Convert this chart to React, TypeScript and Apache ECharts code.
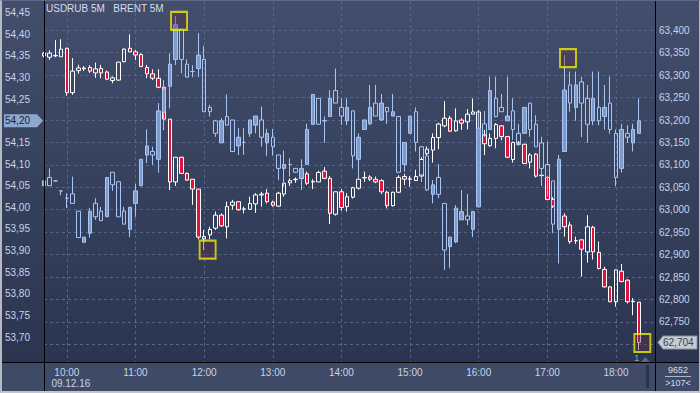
import React, { useEffect, useRef } from "react";
import * as echarts from "echarts";

// 5-minute slots, 09.12.16
const times = [
  "09:40", "09:45", "09:50", "09:55",
  "10:00", "10:05", "10:10", "10:15", "10:20", "10:25", "10:30", "10:35", "10:40", "10:45", "10:50", "10:55",
  "11:00", "11:05", "11:10", "11:15", "11:20", "11:25", "11:30", "11:35", "11:40", "11:45", "11:50", "11:55",
  "12:00", "12:05", "12:10", "12:15", "12:20", "12:25", "12:30", "12:35", "12:40", "12:45", "12:50", "12:55",
  "13:00", "13:05", "13:10", "13:15", "13:20", "13:25", "13:30", "13:35", "13:40", "13:45", "13:50", "13:55",
  "14:00", "14:05", "14:10", "14:15", "14:20", "14:25", "14:30", "14:35", "14:40", "14:45", "14:50", "14:55",
  "15:00", "15:05", "15:10", "15:15", "15:20", "15:25", "15:30", "15:35", "15:40", "15:45", "15:50", "15:55",
  "16:00", "16:05", "16:10", "16:15", "16:20", "16:25", "16:30", "16:35", "16:40", "16:45", "16:50", "16:55",
  "17:00", "17:05", "17:10", "17:15", "17:20", "17:25", "17:30", "17:35", "17:40", "17:45", "17:50", "17:55",
  "18:00", "18:05", "18:10", "18:15", "18:20", "18:25", "18:30", "18:35",
];
const dateLabel = "09.12.16";

// USDRUB 5M: [open, close, low, high]
const usdrub = [
  [63.349, 63.343, 63.340, 63.352], [63.340, 63.349, 63.334, 63.355], [63.343, 63.344, 63.340, 63.378], [63.341, 63.358, 63.341, 63.380],
  [63.360, 63.261, 63.254, 63.361], [63.261, 63.309, 63.256, 63.338], [63.310, 63.316, 63.303, 63.323], [63.314, 63.316, 63.309, 63.320],
  [63.317, 63.309, 63.305, 63.322], [63.305, 63.314, 63.294, 63.328], [63.315, 63.305, 63.293, 63.323], [63.307, 63.291, 63.289, 63.310],
  [63.288, 63.294, 63.282, 63.297], [63.289, 63.329, 63.288, 63.330], [63.330, 63.358, 63.329, 63.360], [63.360, 63.352, 63.352, 63.391],
  [63.352, 63.345, 63.334, 63.356], [63.346, 63.319, 63.319, 63.349], [63.317, 63.303, 63.293, 63.323], [63.303, 63.293, 63.289, 63.313],
  [63.293, 63.273, 63.271, 63.313], [63.273, 63.202, 63.178, 63.276], [63.202, 63.062, 63.044, 63.202], [63.062, 63.117, 63.053, 63.117],
  [63.117, 63.081, 63.080, 63.118], [63.081, 63.066, 63.065, 63.083], [63.068, 63.046, 63.011, 63.068], [63.046, 62.939, 62.934, 63.046],
  [62.935, 62.940, 62.910, 62.955], [62.944, 62.956, 62.934, 62.962], [62.959, 62.988, 62.955, 62.996], [62.988, 62.964, 62.962, 62.992],
  [62.962, 63.007, 62.936, 63.018], [63.010, 63.017, 63.000, 63.022], [63.018, 63.000, 62.998, 63.018], [63.001, 63.002, 62.992, 63.007],
  [63.001, 63.014, 63.000, 63.029], [63.013, 63.033, 62.993, 63.037], [63.033, 63.035, 63.007, 63.040], [63.037, 63.018, 63.014, 63.046],
  [63.017, 63.010, 63.007, 63.020], [63.008, 63.037, 63.007, 63.040], [63.035, 63.059, 63.029, 63.060], [63.060, 63.065, 63.053, 63.070],
  [63.067, 63.068, 63.060, 63.072], [63.070, 63.072, 63.062, 63.080], [63.080, 63.059, 63.055, 63.085], [63.062, 63.063, 63.046, 63.068],
  [63.062, 63.083, 63.062, 63.087], [63.086, 63.070, 63.068, 63.095], [63.070, 62.992, 62.968, 63.075], [62.990, 63.040, 62.987, 63.040],
  [63.040, 63.005, 62.998, 63.046], [63.007, 63.029, 62.996, 63.037], [63.028, 63.049, 63.025, 63.051], [63.048, 63.068, 63.045, 63.081],
  [63.071, 63.072, 63.062, 63.085], [63.073, 63.068, 63.064, 63.077], [63.068, 63.062, 63.059, 63.074], [63.065, 63.040, 63.035, 63.068],
  [63.039, 63.009, 63.003, 63.042], [63.009, 63.039, 63.007, 63.040], [63.039, 63.072, 63.037, 63.077], [63.074, 63.068, 63.055, 63.080],
  [63.068, 63.069, 63.051, 63.075], [63.065, 63.074, 63.065, 63.089], [63.075, 63.112, 63.062, 63.117], [63.125, 63.135, 63.122, 63.141],
  [63.133, 63.161, 63.105, 63.170], [63.161, 63.191, 63.135, 63.194], [63.187, 63.204, 63.184, 63.242], [63.204, 63.175, 63.174, 63.209],
  [63.176, 63.198, 63.174, 63.226], [63.200, 63.193, 63.178, 63.204], [63.196, 63.213, 63.179, 63.224], [63.213, 63.218, 63.213, 63.248],
  [63.218, 63.179, 63.173, 63.222], [63.167, 63.147, 63.122, 63.178], [63.143, 63.159, 63.140, 63.170], [63.159, 63.190, 63.137, 63.193],
  [63.187, 63.163, 63.155, 63.189], [63.163, 63.117, 63.115, 63.164], [63.112, 63.150, 63.105, 63.152], [63.149, 63.146, 63.144, 63.153],
  [63.146, 63.103, 63.102, 63.147], [63.106, 63.122, 63.092, 63.126], [63.124, 63.075, 63.072, 63.126], [63.076, 63.077, 63.073, 63.077],
  [63.072, 63.023, 63.022, 63.074], [63.023, 63.008, 63.004, 63.028], [63.008, 62.988, 62.984, 63.013], [62.986, 62.962, 62.940, 62.992],
  [62.966, 62.929, 62.924, 62.973], [62.931, 62.931, 62.924, 62.940], [62.933, 62.912, 62.851, 62.934], [62.906, 62.962, 62.882, 62.988],
  [62.961, 62.906, 62.889, 62.964], [62.905, 62.869, 62.867, 62.929], [62.867, 62.828, 62.827, 62.873], [62.828, 62.795, 62.794, 62.830],
  [62.795, 62.866, 62.784, 62.867], [62.863, 62.840, 62.838, 62.879], [62.843, 62.795, 62.791, 62.845], [62.795, 62.796, 62.765, 62.803],
  [62.794, 62.704, 62.687, 62.794],
];

// BRENT 5M: [open, close, low, high]
const brent = [
  [54.050, 54.061, 54.049, 54.061], [54.069, 54.050, 54.050, 54.090], [54.061, 54.061, 54.060, 54.062], [54.038, 54.038, 54.028, 54.039],
  [54.021, 54.021, 53.998, 54.032], [54.031, 54.009, 54.009, 54.071], [53.991, 53.930, 53.930, 53.991], [53.919, 53.931, 53.919, 53.931],
  [53.940, 53.991, 53.930, 53.998], [54.009, 53.978, 53.971, 54.021], [53.991, 53.969, 53.969, 54.001], [53.978, 54.069, 53.978, 54.069],
  [54.081, 54.052, 54.038, 54.081], [54.059, 53.978, 53.978, 54.059], [53.991, 53.961, 53.961, 54.001], [53.949, 54.000, 53.931, 54.000],
  [54.009, 54.038, 53.978, 54.054], [54.050, 54.111, 54.050, 54.111], [54.121, 54.142, 54.102, 54.180], [54.129, 54.121, 54.098, 54.140],
  [54.111, 54.223, 54.080, 54.241], [54.220, 54.273, 54.181, 54.294], [54.280, 54.331, 54.229, 54.356], [54.342, 54.422, 54.329, 54.442],
  [54.412, 54.342, 54.310, 54.412], [54.331, 54.301, 54.301, 54.342], [54.314, 54.314, 54.301, 54.329], [54.321, 54.352, 54.301, 54.403],
  [54.342, 54.221, 54.221, 54.373], [54.231, 54.221, 54.210, 54.237], [54.200, 54.171, 54.163, 54.202], [54.149, 54.200, 54.149, 54.206],
  [54.210, 54.190, 54.190, 54.261], [54.202, 54.129, 54.129, 54.202], [54.142, 54.162, 54.121, 54.183], [54.150, 54.150, 54.121, 54.183],
  [54.171, 54.202, 54.163, 54.202], [54.190, 54.211, 54.171, 54.211], [54.202, 54.162, 54.140, 54.233], [54.149, 54.171, 54.119, 54.181],
  [54.162, 54.140, 54.119, 54.181], [54.121, 54.090, 54.063, 54.121], [54.090, 54.099, 54.048, 54.131], [54.099, 54.099, 54.071, 54.113],
  [54.090, 54.081, 54.079, 54.091], [54.067, 54.090, 54.040, 54.111], [54.099, 54.180, 54.099, 54.193], [54.192, 54.261, 54.192, 54.261],
  [54.252, 54.192, 54.192, 54.252], [54.200, 54.200, 54.149, 54.210], [54.210, 54.252, 54.210, 54.271], [54.270, 54.241, 54.241, 54.321],
  [54.231, 54.211, 54.190, 54.252], [54.200, 54.231, 54.190, 54.252], [54.223, 54.119, 54.090, 54.223], [54.111, 54.162, 54.063, 54.171],
  [54.180, 54.202, 54.180, 54.202], [54.193, 54.231, 54.190, 54.283], [54.241, 54.211, 54.211, 54.283], [54.202, 54.241, 54.200, 54.262],
  [54.231, 54.221, 54.193, 54.231], [54.211, 54.221, 54.211, 54.262], [54.210, 54.081, 54.081, 54.211], [54.099, 54.150, 54.082, 54.150],
  [54.171, 54.211, 54.171, 54.211], [54.221, 54.150, 54.129, 54.231], [54.140, 54.075, 54.059, 54.142], [54.119, 54.040, 54.038, 54.121],
  [54.030, 54.052, 54.009, 54.063], [54.069, 54.030, 54.021, 54.100], [54.009, 53.901, 53.855, 54.009], [53.909, 53.931, 53.860, 53.932],
  [53.920, 53.998, 53.917, 54.005], [53.971, 53.990, 53.971, 54.040], [53.980, 53.971, 53.959, 54.031], [53.949, 53.990, 53.931, 53.990],
  [54.001, 54.183, 54.001, 54.221], [54.193, 54.167, 54.163, 54.223], [54.180, 54.270, 54.180, 54.302], [54.252, 54.210, 54.208, 54.302],
  [54.231, 54.221, 54.221, 54.262], [54.200, 54.211, 54.200, 54.302], [54.223, 54.180, 54.156, 54.252], [54.171, 54.146, 54.142, 54.193],
  [54.171, 54.231, 54.171, 54.231], [54.241, 54.180, 54.163, 54.241], [54.192, 54.140, 54.140, 54.213], [54.149, 54.090, 54.049, 54.163],
  [54.099, 54.069, 54.025, 54.152], [54.061, 53.961, 53.940, 54.061], [53.949, 54.111, 53.870, 54.121], [54.129, 54.271, 54.129, 54.352],
  [54.283, 54.241, 54.221, 54.314], [54.231, 54.283, 54.200, 54.314], [54.290, 54.241, 54.162, 54.302], [54.252, 54.192, 54.149, 54.283],
  [54.200, 54.252, 54.190, 54.314], [54.231, 54.200, 54.190, 54.314], [54.210, 54.231, 54.180, 54.283], [54.241, 54.180, 54.170, 54.302],
  [54.171, 54.069, 54.049, 54.180], [54.090, 54.180, 54.080, 54.193], [54.171, 54.162, 54.149, 54.190], [54.149, 54.180, 54.129, 54.193],
  [54.171, 54.200, 54.171, 54.252],
];

// highlighted extremes: [slot index, price]
const brentBoxes = [[23, 54.431], [91, 54.345]];
const usdrubBoxes = [[28, 62.911], [104, 62.703]];

const brentTicks = [53.70, 53.75, 53.80, 53.85, 53.90, 53.95, 54.00, 54.05, 54.10, 54.15, 54.20, 54.25, 54.30, 54.35, 54.40, 54.45];
const usdrubGrid = [62.70, 62.75, 62.80, 62.85, 62.90, 62.95, 63.00, 63.05, 63.10, 63.15, 63.20, 63.25, 63.30, 63.35, 63.40];
const usdrubLabels = [62.75, 62.80, 62.85, 62.90, 62.95, 63.00, 63.05, 63.10, 63.15, 63.20, 63.25, 63.30, 63.35, 63.40];
const brentRange = [53.6422, 54.4771];
const usdrubRange = [62.6606, 63.4653];

const brentLast = 54.2;
const usdrubLast = 62.704;
const barsCount = "9652";
const visibleBars = ">107<";

const FONT = '"Liberation Sans", Arial, sans-serif';
const LABEL = "#c9d3ea";

const isHour = (_: number, v: string) => v.endsWith(":00");

export default function App() {
  const ref = useRef<HTMLDivElement>(null);

  useEffect(() => {
    const el = ref.current!;
    const chart = echarts.init(el, undefined, { renderer: "svg", width: 700, height: 393 });
    chart.setOption({
      animation: false,
      backgroundColor: "transparent",
      grid: { left: 44, right: 44, top: 1, bottom: 31 },
      xAxis: {
        type: "category",
        data: times,
        boundaryGap: false,
        axisLine: { show: false },
        axisTick: { show: false },
        axisLabel: {
          interval: isHour,
          color: LABEL,
          fontSize: 10,
          fontFamily: FONT,
          lineHeight: 11,
          margin: 5,
          formatter: (v: string) => (v === "10:00" ? "{t|" + v + "}\n{d|" + dateLabel + "}" : v),
          rich: {
            t: { color: LABEL, fontSize: 10, fontFamily: FONT, lineHeight: 11 },
            d: { color: LABEL, fontSize: 10, fontFamily: FONT, lineHeight: 11, padding: [0, 0, 0, 8] },
          },
        },
        splitLine: { show: true, interval: isHour, lineStyle: { color: "#58648a", type: [3, 3], width: 1 } },
      },
      yAxis: [
        {
          type: "value",
          position: "left",
          min: brentRange[0],
          max: brentRange[1],
          axisLine: { show: false },
          axisTick: { show: false, customValues: brentTicks },
          splitLine: { show: false },
          axisLabel: {
            customValues: brentTicks,
            color: LABEL,
            fontSize: 10,
            fontFamily: FONT,
            margin: 14,
            formatter: (v: number) => v.toFixed(2).replace(".", ","),
          },
        },
        {
          type: "value",
          position: "right",
          min: usdrubRange[0],
          max: usdrubRange[1],
          axisLine: { show: false },
          axisTick: { show: false, customValues: usdrubGrid },
          splitLine: { show: true, lineStyle: { color: "#58648a", type: [3, 3], width: 1 } },
          axisLabel: {
            customValues: usdrubLabels,
            color: LABEL,
            fontSize: 10,
            fontFamily: FONT,
            margin: 3,
            formatter: (v: number) => v.toFixed(3).replace(".", ","),
          },
        },
      ],
      series: [
        {
          name: "USDRUB 5M",
          type: "candlestick",
          yAxisIndex: 1,
          barWidth: 4,
          data: usdrub,
          itemStyle: {
            color: "rgba(0,0,0,0)",
            color0: "#e3123c",
            borderColor: "#ffffff",
            borderColor0: "#ffffff",
            borderWidth: 1,
          },
          z: 2,
        },
        {
          name: "BRENT 5M",
          type: "candlestick",
          yAxisIndex: 0,
          barWidth: 4,
          data: brent,
          itemStyle: {
            color: "#7e9bcb",
            color0: "rgba(0,0,0,0)",
            borderColor: "#a9c5f3",
            borderColor0: "#a9c5f3",
            borderWidth: 1,
          },
          z: 3,
        },
        {
          type: "scatter",
          yAxisIndex: 0,
          data: brentBoxes,
          symbol: "rect",
          symbolSize: [16, 18],
          symbolOffset: [3.5, 0],
          itemStyle: { color: "rgba(96,44,72,0.5)", borderColor: "#eded00", borderWidth: 2 },
          silent: true,
          z: 5,
        },
        {
          type: "scatter",
          yAxisIndex: 1,
          data: usdrubBoxes,
          symbol: "rect",
          symbolSize: [16, 18],
          symbolOffset: [3.5, 0],
          itemStyle: { color: "rgba(96,44,72,0.5)", borderColor: "#eded00", borderWidth: 2 },
          silent: true,
          z: 5,
        },
      ],
    });

    const yL = chart.convertToPixel({ yAxisIndex: 0 }, brentLast) as number;
    const yR = chart.convertToPixel({ yAxisIndex: 1 }, usdrubLast) as number;
    const xLast = chart.convertToPixel({ xAxisIndex: 0 }, times[usdrub.length - 1]) as number;

    chart.setOption({
      graphic: [
        { type: "line", z: 50, shape: { x1: 44.5, y1: 0, x2: 44.5, y2: 393 }, style: { stroke: "#000", lineWidth: 1 } },
        { type: "line", z: 50, shape: { x1: 655.5, y1: 0, x2: 655.5, y2: 393 }, style: { stroke: "#000", lineWidth: 1 } },
        { type: "line", z: 50, shape: { x1: 0, y1: 362.5, x2: 700, y2: 362.5 }, style: { stroke: "#000", lineWidth: 1 } },
        {
          type: "text", z: 50, x: 46, y: 8,
          style: { text: "USDRUB 5M   BRENT 5M", fill: "#d5ddef", font: `10px ${FONT}`, textVerticalAlign: "middle" },
        },
        {
          type: "polygon", z: 60,
          shape: { points: [[4, yL - 6.5], [37, yL - 6.5], [43, yL], [37, yL + 6.5], [4, yL + 6.5]] },
          style: { fill: "#8ea7cf" },
        },
        {
          type: "text", z: 61, x: 5, y: yL,
          style: { text: brentLast.toFixed(2).replace(".", ","), fill: "#1b2436", font: `10px ${FONT}`, textVerticalAlign: "middle" },
        },
        {
          type: "polygon", z: 60,
          shape: { points: [[658, yR], [663, yR - 6.5], [697, yR - 6.5], [697, yR + 6.5], [663, yR + 6.5]] },
          style: { fill: "#c6cad2", stroke: "#8d93a0", lineWidth: 1 },
        },
        {
          type: "text", z: 61, x: 663, y: yR,
          style: { text: usdrubLast.toFixed(3).replace(".", ","), fill: "#3a4150", font: `10px ${FONT}`, textVerticalAlign: "middle" },
        },
        {
          type: "text", z: 50, x: xLast - 2, y: 358,
          style: { text: "1", fill: "#9aa5bd", font: `9px ${FONT}`, textAlign: "center", textVerticalAlign: "middle" },
        },
        {
          type: "polygon", z: 50,
          shape: { points: [[xLast + 2, 362], [xLast + 6.5, 357], [xLast + 11, 362]] },
          style: { fill: "#5a6684" },
        },
        { type: "rect", z: 50, shape: { x: 646, y: 365, width: 3, height: 23 }, style: { fill: "#2b3349" } },
        {
          type: "text", z: 50, x: 678, y: 370,
          style: { text: barsCount, fill: "#d5ddef", font: `9px ${FONT}`, textAlign: "center", textVerticalAlign: "middle" },
        },
        { type: "line", z: 50, shape: { x1: 665, y1: 376.5, x2: 691, y2: 376.5 }, style: { stroke: "#aab4cc", lineWidth: 1 } },
        {
          type: "text", z: 50, x: 678, y: 383,
          style: { text: visibleBars, fill: "#d5ddef", font: `9px ${FONT}`, textAlign: "center", textVerticalAlign: "middle" },
        },
      ],
    });

    return () => chart.dispose();
  }, []);

  return (
    <div
      style={{
        position: "absolute",
        left: 0,
        top: 0,
        width: 700,
        height: 393,
        background:
          "linear-gradient(to bottom, #424e6c 0px, #37435f 150px, #2c3550 362px, #3e4a66 362px, #3e4a66 393px)",
        overflow: "hidden",
      }}
    >
      <div ref={ref} style={{ width: 700, height: 393 }} />
      <div
        style={{
          position: "absolute",
          left: 0,
          top: 0,
          width: 700,
          height: 393,
          boxSizing: "border-box",
          borderLeft: "2px solid #b4b9c3",
          borderRight: "1px solid #b4b9c3",
          borderBottom: "2px solid #c2c6ce",
          borderTop: "1px solid #5e6987",
          pointerEvents: "none",
        }}
      />
    </div>
  );
}
